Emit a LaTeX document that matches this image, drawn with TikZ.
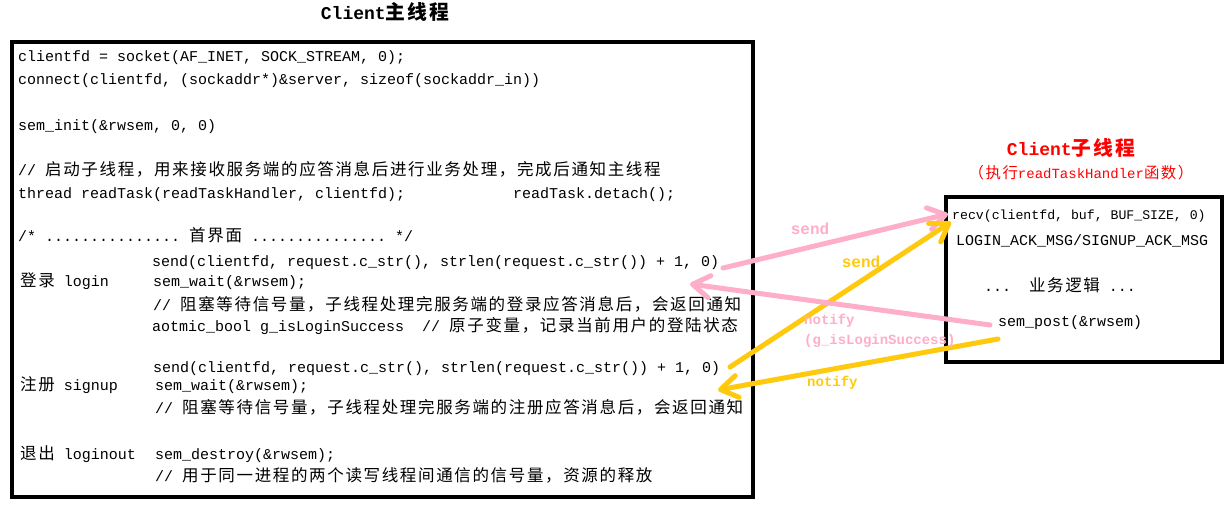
\documentclass[tikz,border=0pt]{standalone}
\usepackage{fontspec}
\setmonofont{Liberation Mono}
\newfontfamily\zh{Noto Sans CJK SC}[Scale=1.1,LetterSpace=10]
\newcommand{\cn}[1]{{\zh #1}}
\usetikzlibrary{arrows.meta}
\definecolor{pinkc}{RGB}{255,174,201}
\definecolor{yelc}{RGB}{255,201,14}
\begin{document}
\begin{tikzpicture}[x=1pt,y=-1pt,
  code/.style={anchor=west,inner sep=0pt,text height=11pt,text depth=3pt,font=\ttfamily\fontsize{15}{18}\selectfont},
  small/.style={code,font=\ttfamily\fontsize{13.2}{16}\selectfont},
  title/.style={inner sep=0pt,font=\ttfamily\bfseries\fontsize{18}{20}\selectfont},
  boxline/.style={draw=black,line width=4pt},
  parrow/.style={draw=pinkc,line width=5pt,line cap=round,-{Straight Barb[length=17pt,width=22pt,round]}},
  yarrow/.style={draw=yelc,line width=5pt,line cap=round,-{Straight Barb[length=17pt,width=22pt,round]}},
  plabel/.style={inner sep=0pt,text=pinkc,font=\ttfamily\bfseries\fontsize{14}{16}\selectfont},
  ylabel/.style={inner sep=0pt,text=yelc,font=\ttfamily\bfseries\fontsize{14}{16}\selectfont},
]
\useasboundingbox (0,0) rectangle (1224,505);
\fill[white] (0,0) rectangle (1224,505);

% titles
\node[title] (t1) at (385,12) {Client{\zh\bfseries 主线程}};
\node[title,text=red] (t2) at (1071,148) {Client{\zh\bfseries 子线程}};
\node[inner sep=0pt,text=red,font=\ttfamily\fontsize{14}{16}\selectfont] (t3) at (1081,173) {{\zh （执行}readTaskHandler{\zh 函数）}};

% boxes
\node[boxline,inner sep=0pt,minimum width=741pt,minimum height=455pt,anchor=north west] (mainbox) at (10,40) {};
\node[boxline,inner sep=0pt,minimum width=276pt,minimum height=165pt,anchor=north west] (subbox) at (944,195) {};

% main text
\node[code] (l1) at (18,58) {clientfd = socket(AF\_INET, SOCK\_STREAM, 0);};
\node[code] (l2) at (18,81) {connect(clientfd, (sockaddr*)\&server, sizeof(sockaddr\_in))};
\node[code] (l3) at (18,127) {sem\_init(\&rwsem, 0, 0)};
\node[code] (l4) at (18,172) {// \cn{启动子线程，用来接收服务端的应答消息后进行业务处理，完成后通知主线程}};
\node[code] (l5) at (18,195) {thread readTask(readTaskHandler, clientfd);};
\node[code] (l5b) at (513,195) {readTask.detach();};
\node[code] (l6) at (18,238) {/* ............... \cn{首界面} ............... */};
\node[code] (l7) at (152,263) {send(clientfd, request.c\_str(), strlen(request.c\_str()) + 1, 0)};
\node[code] (l8a) at (20,283) {\cn{登录} login};
\node[code] (l8) at (153,283) {sem\_wait(\&rwsem);};
\node[code] (l9) at (153,306) {// \cn{阻塞等待信号量，子线程处理完服务端的登录应答消息后，会返回通知}};
\node[code] (l10) at (152,327) {aotmic\_bool g\_isLoginSuccess\ \ // \cn{原子变量，记录当前用户的登陆状态}};
\node[code] (l11) at (153,368) {send(clientfd, request.c\_str(), strlen(request.c\_str()) + 1, 0)};
\node[code] (l12a) at (20,386) {\cn{注册} signup};
\node[code] (l12) at (155,386) {sem\_wait(\&rwsem);};
\node[code] (l13) at (155,409) {// \cn{阻塞等待信号量，子线程处理完服务端的注册应答消息后，会返回通知}};
\node[code] (l14a) at (20,455) {\cn{退出} loginout};
\node[code] (l14) at (155,455) {sem\_destroy(\&rwsem);};
\node[code] (l15) at (155,477) {// \cn{用于同一进程的两个读写线程间通信的信号量，资源的释放}};

% sub text
\node[small] (r1) at (952,216) {recv(clientfd, buf, BUF\_SIZE, 0)};
\node[code] (r2) at (956,242) {LOGIN\_ACK\_MSG/SIGNUP\_ACK\_MSG};
\node[code,anchor=center] (r3) at (1060,287) {...\ \ \cn{业务逻辑} ...};
\node[code] (r4) at (998,322) {sem\_post(\&rwsem)};

% connector ends
\coordinate (ps0) at (723,268);
\coordinate (ps1) at (948,214);
\coordinate (ys0) at (730,367);
\coordinate (ys1) at (951,222);
\coordinate (pn0) at (990,325);
\coordinate (pn1) at (690,284);
\coordinate (yn0) at (998,339);
\coordinate (yn1) at (718,390);

\draw[parrow] (ps0) -- (ps1);
\draw[yarrow] (ys0) -- (ys1);
\draw[parrow] (pn0) -- (pn1);
\draw[yarrow] (yn0) -- (yn1);

% labels
\node[plabel,font=\ttfamily\bfseries\fontsize{16}{18}\selectfont] (pl1) at (810,229) {send};
\node[ylabel,font=\ttfamily\bfseries\fontsize{16}{18}\selectfont] (yl1) at (861,262) {send};
\node[plabel,anchor=west] (pl2) at (804,321) {notify};
\node[plabel,anchor=west] (pl3) at (804,341) {(g\_isLoginSuccess)};
\node[ylabel,anchor=west] (yl2) at (807,383) {notify};
\end{tikzpicture}
\end{document}
